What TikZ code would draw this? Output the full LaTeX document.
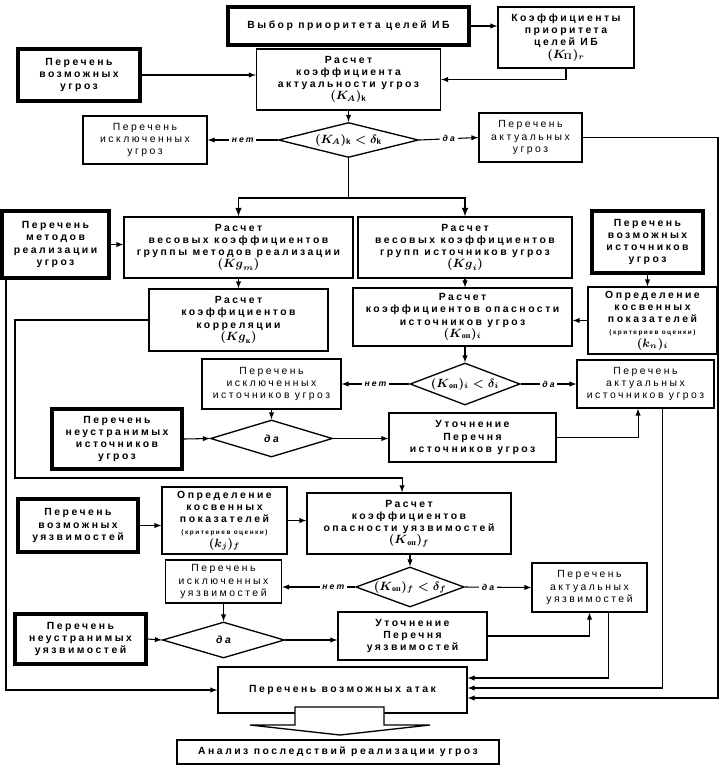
\documentclass[tikz,border=0pt]{standalone}
\usepackage{amsmath}
\usepackage{fontspec}
\setmainfont{Liberation Sans}[LetterSpace=24]
\newfontfamily\serifcyr{Liberation Serif}
\usetikzlibrary{shapes.geometric}
\newcommand{\Kop}{\boldsymbol{K}_{\text{\serifcyr\bfseries оп}}}
\newcommand{\boxfont}{\fontsize{7.8}{9.2}\selectfont}
\newcommand{\critfont}{\fontsize{4.8}{6}\selectfont}
\newcommand{\fml}[1]{{\fontsize{8.6}{9.4}\selectfont\boldmath$#1$}}
\tikzset{
  sz/.style 2 args={minimum width=#1*0.75pt, minimum height=#2*0.75pt},
  box/.style={draw, line width=1pt, align=center, inner sep=0pt, font=\boxfont\bfseries},
  lightbox/.style={box, font=\boxfont\mdseries},
  thickbox/.style={box, line width=3pt},
  decision/.style={draw, diamond, line width=1pt, aspect=3, inner sep=0pt, align=center, font=\boxfont\bfseries},
  lbl/.style={fill=white, inner sep=2pt, font=\fontsize{6.5}{7}\selectfont\bfseries\itshape},
}
\begin{document}
\begin{tikzpicture}[x=0.75pt, y=-0.75pt, line width=0.8pt]
\useasboundingbox (0,0) rectangle (720,768);
% threats
\node[thickbox, sz={241}{38}, at={(348.5,26)}, line width=3.5pt] (vybor) {Выбор приоритета целей ИБ};
\node[box, sz={136}{61}, at={(566,37.5)}] (koefP) {Коэффициенты\\приоритета\\целей ИБ\\\fml{(\boldsymbol{K}_{\!\Pi})_{r}}};
\node[box, sz={184}{61}, at={(348.5,79.5)}] (rasA) {Расчет\\коэффициента\\актуальности угроз\\\fml{(\boldsymbol{K}_{\!A})_{\mathrm{k}}}};
\node[thickbox, sz={122}{52}, at={(79,75)}] (ugr) {Перечень\\возможных\\угроз};
\node[decision, sz={140}{35}, at={(348.5,140)}] (dA) {\fml{(\boldsymbol{K}_{\!A})_{\mathrm{k}} < \delta_{\mathrm{k}}}};
\node[lightbox, sz={124}{48}, at={(145,140)}] (isklU) {Перечень\\исключенных\\угроз};
\node[lightbox, sz={103}{49}, at={(530.5,137.5)}] (aktU) {Перечень\\актуальных\\угроз};
% sources
\node[box, sz={229}{61}, at={(238.5,247.5)}] (rasM) {Расчет\\весовых коэффициентов\\группы методов реализации\\\fml{(\boldsymbol{Kg}_{m})}};
\node[thickbox, sz={107}{67}, at={(55.5,244.5)}] (metod) {Перечень\\методов\\реализации\\угроз};
\node[box, sz={214}{61}, at={(465,247.5)}] (rasI) {Расчет\\весовых коэффициентов\\групп источников угроз\\\fml{(\boldsymbol{Kg}_{i})}};
\node[thickbox, sz={111}{62}, at={(647.5,242)}] (istV) {Перечень\\возможных\\источников\\угроз};
\node[box, sz={129}{67}, at={(652.5,320.5)}] (oprI) {Определение\\косвенных\\показателей\\{\critfont (критериев оценки)}\\\fml{(\boldsymbol{k}_{n})_{i}}};
\node[box, sz={219}{58}, at={(462.5,317)}] (rasOpI) {Расчет\\коэффициентов опасности\\источников угроз\\\fml{(\Kop)_{i}}};
\node[box, sz={179}{62}, at={(238.5,320)}] (rasKor) {Расчет\\коэффициентов\\корреляции\\\fml{(\boldsymbol{Kg}_{\text{\serifcyr к}})}};
\node[decision, sz={110}{42}, at={(465,384)}] (dI) {\fml{(\Kop)_{i} < \delta_{i}}};
\node[lightbox, sz={139}{50}, at={(271.5,384)}] (isklI) {Перечень\\исключенных\\источников угроз};
\node[lightbox, sz={137}{48}, at={(645.5,384)}] (aktI) {Перечень\\актуальных\\источников угроз};
\node[decision, sz={122}{37}, at={(271.5,438.5)}, font=\boxfont\bfseries\itshape] (daI) {да};
\node[thickbox, sz={130}{60}, at={(117,439)}] (neustrI) {Перечень\\неустранимых\\источников\\угроз};
\node[box, sz={167}{49}, at={(472.5,437.5)}] (utochI) {Уточнение\\Перечня\\источников угроз};
% vulnerabilities
\node[thickbox, sz={120}{53}, at={(78,525.5)}] (uyazV) {Перечень\\возможных\\уязвимостей};
\node[box, sz={125}{67}, at={(224.5,520.5)}] (oprU) {Определение\\косвенных\\показателей\\{\critfont (критериев оценки)}\\\fml{(\boldsymbol{k}_{j})_{f}}};
\node[box, sz={204}{61}, at={(409,523.5)}] (rasOpU) {Расчет\\коэффициентов\\опасности уязвимостей\\\fml{(\Kop)_{f}}};
\node[decision, sz={106}{40}, at={(410,587)}] (dU) {\fml{(\Kop)_{f} < \delta_{f}}};
\node[lightbox, sz={116}{43}, at={(223.5,581.5)}] (isklUz) {Перечень\\исключенных\\уязвимостей};
\node[lightbox, sz={115}{49}, at={(589.5,587.5)}] (aktUz) {Перечень\\актуальных\\уязвимостей};
\node[decision, sz={122}{36}, at={(223.5,640)}, font=\boxfont\bfseries\itshape] (daU) {да};
\node[thickbox, sz={131}{50}, at={(80.5,639)}, line width=2.5pt] (neustrU) {Перечень\\неустранимых\\уязвимостей};
\node[box, sz={149}{48}, at={(412.5,636)}] (utochU) {Уточнение\\Перечня\\уязвимостей};
% attacks
\node[box, sz={249}{46}, at={(342.5,690)}] (atak) {Перечень возможных атак};
\node[box, sz={322}{24}, at={(338,752)}] (analiz) {Анализ последствий реализации угроз};
\coordinate (fork) at (348.5,198);
\coordinate (korA) at (15,478);
\coordinate (edgeR) at (718,698);
\coordinate (edgeL) at (6,690);

\draw[-latex] (vybor.east) -- (vybor.east -| koefP.west);
\draw[-latex] (koefP.south) |- (rasA.east);
\draw[-latex] (ugr.east) -- (ugr.east -| rasA.west);
\draw[-latex] (rasA.south) -- (dA.north);
\draw[-latex] (dA.west) -- node[lbl]{нет} (isklU.east);
\draw[-latex] (dA.east) -- node[lbl]{да} (aktU.west);
\draw[line width=1.2pt] (dA.south) -- (fork);
\draw[-latex, line width=1.2pt] (fork) -| (rasM.north);
\draw[-latex, line width=1.2pt] (fork) -| (rasI.north);
\draw[-latex] (metod.east) -- (metod.east -| rasM.west);
\draw[-latex] (rasM.south) -- (rasKor.north);
\draw[-latex] (rasI.south) -- (rasI.south |- rasOpI.north);
\draw[-latex] (istV.south) -- (istV.south |- oprI.north);
\draw[-latex] (oprI.west) -- (oprI.west -| rasOpI.east);
\draw[-latex] (dI.north |- rasOpI.south) -- (dI.north);
\draw[-latex] (dI.west) -- node[lbl]{нет} (isklI.east);
\draw[-latex] (dI.east) -- node[lbl]{да} (aktI.west);
\draw[-latex] (isklI.south) -- (daI.north);
\draw[-latex] (neustrI.east) -- (daI.west);
\draw[-latex] (daI.east) -- (daI.east -| utochI.west);
\draw[-latex] (utochI.east) -| ([xshift=-5.6pt]aktI.south);
\draw[-latex] (rasKor.west) -| (korA) -| ([xshift=-5.2pt]rasOpU.north);
\draw[-latex] (uyazV.east) -- (uyazV.east -| oprU.west);
\draw[-latex] (oprU.east) -- (oprU.east -| rasOpU.west);
\draw[-latex] (rasOpU.south -| dU.north) -- (dU.north);
\draw[-latex] (dU.west) -- node[lbl, pos=0.3]{нет} (dU.west -| isklUz.east);
\draw[-latex] (dU.east) -- node[lbl, pos=0.35]{да} (aktUz.west);
\draw[-latex] (isklUz.south) -- (daU.north);
\draw[-latex] (neustrU.east) -- (daU.west);
\draw[-latex] (daU.east) -- (daU.east -| utochU.west);
\draw[-latex] (utochU.east) -| (aktUz.south);
\draw[-latex] ([xshift=13.9pt]aktUz.south) |- ([yshift=9pt]atak.east);
\draw[-latex] ([xshift=12.4pt]aktI.south) |- ([yshift=1.5pt]atak.east);
\draw[-latex] (aktU.east) -| (edgeR) -- ([yshift=-6pt]atak.east);
\draw[-latex] (metod.south -| edgeL) -- (edgeL) -- (atak.west);
% block arrow
\draw[fill=white, line width=1pt] (295,707) -- (384,707) -- (384,725) -- (430,725) -- (340,735) -- (250,725) -- (295,725) -- cycle;
\end{tikzpicture}
\end{document}
